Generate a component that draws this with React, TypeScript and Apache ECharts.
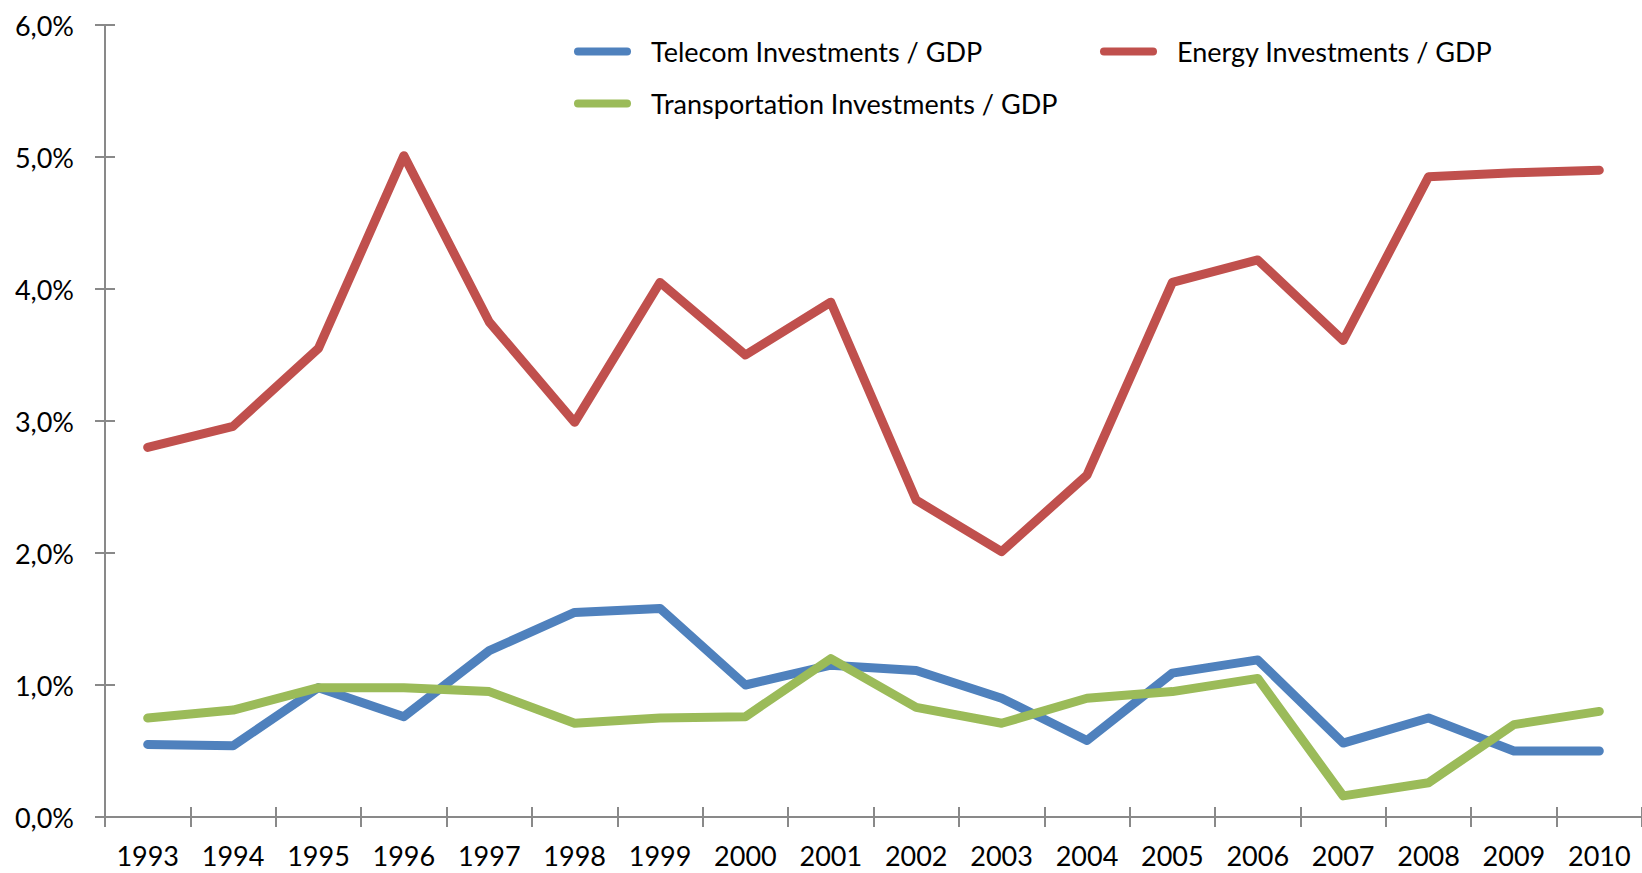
import React, { useEffect, useRef } from "react";
import * as echarts from "echarts";

const years = ["1993","1994","1995","1996","1997","1998","1999","2000","2001","2002","2003","2004","2005","2006","2007","2008","2009","2010"];
const telecom = [0.55,0.54,0.98,0.76,1.26,1.55,1.58,1.0,1.15,1.11,0.9,0.58,1.09,1.19,0.56,0.75,0.5,0.5];
const energy = [2.8,2.96,3.55,5.01,3.75,2.99,4.05,3.5,3.9,2.4,2.01,2.59,4.05,4.22,3.61,4.85,4.88,4.9];
const transport = [0.75,0.81,0.98,0.98,0.95,0.71,0.75,0.76,1.2,0.83,0.71,0.9,0.95,1.05,0.16,0.26,0.7,0.8];
const seriesNames = ["Telecom Investments / GDP", "Energy Investments / GDP", "Transportation Investments / GDP"];
const colors = ["#4F81BD", "#C0504D", "#9BBB59"];

const FONT = "Lato";
const AXIS_COLOR = "#898989";
const capsule = "path://M4,0H53A4,4,0,0,1,53,8H4A4,4,0,0,1,4,0Z";

export default function App() {
  const ref = useRef<HTMLDivElement>(null);
  useEffect(() => {
    if (!ref.current) return;
    const chart = echarts.init(ref.current, null, { renderer: "svg" });
    const fmt = (v: number) => v.toFixed(1).replace(".", ",") + "%";
    const legendBase = {
      icon: capsule,
      itemWidth: 57,
      itemHeight: 8,
      itemGap: 0,
      itemStyle: { borderWidth: 0 },
      padding: 0,
      textStyle: { fontFamily: FONT, fontSize: 27, color: "#000", padding: [0, 0, 0, 15] },
    };
    chart.setOption({
      animation: false,
      backgroundColor: "#fff",
      color: colors,
      legend: [
        { ...legendBase, data: [seriesNames[0]], left: 574, top: 38 },
        { ...legendBase, data: [seriesNames[1]], left: 1100, top: 38 },
        { ...legendBase, data: [seriesNames[2]], left: 574, top: 90 },
      ],
      grid: { left: 105, top: 25, width: 1542, height: 792, containLabel: false },
      xAxis: [
        {
          type: "category",
          data: years,
          position: "bottom",
          boundaryGap: true,
          axisLine: { show: true, lineStyle: { color: AXIS_COLOR, width: 2 } },
          axisTick: { show: true, length: 10, inside: false, lineStyle: { color: AXIS_COLOR, width: 2 } },
          axisLabel: { fontFamily: FONT, fontSize: 27, lineHeight: 22, color: "#000", margin: 27 },
          splitLine: { show: false },
        },
        {
          type: "category",
          data: years,
          position: "bottom",
          offset: 0,
          boundaryGap: true,
          axisLine: { show: false },
          axisTick: { show: true, length: 10, inside: true, lineStyle: { color: AXIS_COLOR, width: 2 } },
          axisLabel: { show: false },
          splitLine: { show: false },
        },
      ],
      yAxis: [
        {
          type: "value",
          min: 0,
          max: 6,
          interval: 1,
          position: "left",
          axisLine: { show: true, lineStyle: { color: AXIS_COLOR, width: 2 } },
          axisTick: { show: true, length: 10, inside: false, lineStyle: { color: AXIS_COLOR, width: 2 } },
          axisLabel: { fontFamily: FONT, fontSize: 27, color: "#000", margin: 31, formatter: fmt },
          splitLine: { show: false },
        },
        {
          type: "value",
          min: 0,
          max: 6,
          interval: 1,
          position: "left",
          offset: 0,
          axisLine: { show: false },
          axisTick: { show: true, length: 10, inside: true, lineStyle: { color: AXIS_COLOR, width: 2 } },
          axisLabel: { show: false },
          splitLine: { show: false },
        },
      ],
      series: [telecom, energy, transport].map((d, i) => ({
        name: seriesNames[i],
        type: "line",
        data: d,
        xAxisIndex: 0,
        yAxisIndex: 0,
        symbol: "none",
        showSymbol: false,
        lineStyle: { width: 9, color: colors[i], cap: "round", join: "round" },
        itemStyle: { color: colors[i] },
        z: i === 1 ? 2 : i === 0 ? 3 : 4,
      })),
    });
    return () => chart.dispose();
  }, []);
  return <div ref={ref} style={{ position: "absolute", left: 0, top: 0, width: 1642, height: 873 }} />;
}
